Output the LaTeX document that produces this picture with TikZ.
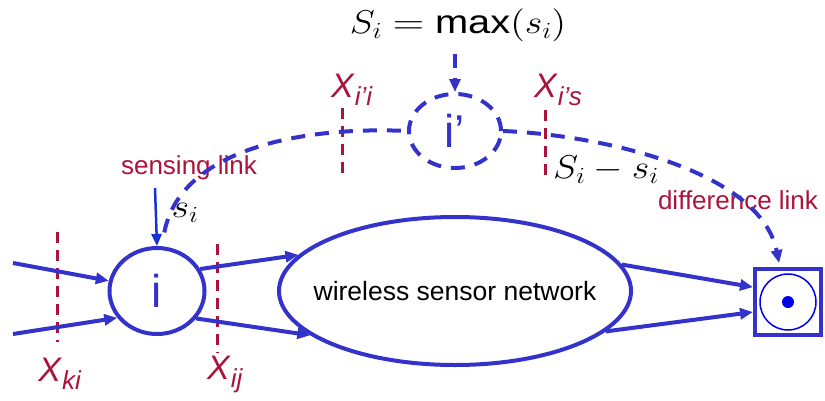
\documentclass[tikz,border=0pt]{standalone}
\usepackage{fontspec}
\setmainfont{Liberation Sans}
\DeclareFontShape{OML}{cmm}{m}{it}{<->cmmi12}{}
\DeclareFontShape{OMS}{cmsy}{m}{n}{<->cmsy10}{}
\DeclareFontShape{OT1}{cmr}{m}{n}{<->cmr12}{}
\DeclareFontShape{OMX}{cmex}{m}{n}{<->cmex10}{}
\usepackage{tikz}
\usetikzlibrary{arrows.meta,positioning,shapes.geometric}
\definecolor{netblue}{RGB}{51,51,204}
\definecolor{senseblue}{RGB}{25,50,210}
\definecolor{sinkblue}{RGB}{0,0,240}
\definecolor{cutred}{RGB}{170,20,60}
\tikzset{
  peer/.style={ellipse,draw=netblue,line width=4pt,inner sep=0pt,font=\fontsize{46}{46}\selectfont,text=netblue},
  virt/.style={peer,dash pattern=on 14pt off 10pt},
  cloud/.style={ellipse,draw=netblue,line width=4pt,inner sep=0pt,inner xsep=-20pt,font=\fontsize{26.5}{30}\selectfont},
  sinkbox/.style={draw=netblue,line width=4pt,minimum size=66pt,inner sep=0pt},
  flow/.style={-{Triangle[length=13pt,width=11pt]},draw=netblue,line width=4pt},
  vlink/.style={flow,dash pattern=on 14pt off 10pt},
  sense/.style={-{Triangle[length=12pt,width=10pt]},draw=senseblue,line width=2.5pt},
  cut/.style={draw=cutred,line width=3pt,dash pattern=on 11pt off 7pt},
  redlbl/.style={text=cutred,font=\fontsize{26}{30}\selectfont,inner sep=0pt},
  xlbl/.style={redlbl,font=\fontsize{34}{36}\selectfont},
  mathlbl/.style={font=\fontsize{33}{36}\selectfont,inner sep=0pt}
}
\newcommand{\Xcut}[1]{\textit{X}\raisebox{-8pt}{\fontsize{26}{26}\selectfont\textit{#1}}}
\newcommand{\wide}[1]{\scalebox{1.15}[1]{#1}}

\begin{document}
\begin{tikzpicture}[x=1pt,y=-1pt]
  \useasboundingbox (0,0) rectangle (825,400);
  % nodes
  \node[peer,minimum width=95pt,minimum height=86pt] (i) at (157,291) {i};
  \node[virt,minimum width=92pt,minimum height=74pt] (ip) at (455,131) {i'};
  \node[cloud,minimum width=352pt,minimum height=148pt] (wsn) at (455,291) {wireless sensor network};
  \node[sinkbox] (sink) at (788,302) {};
  \node[circle,draw=sinkblue,line width=1.5pt,minimum size=56pt,inner sep=0pt] (sinkring) at (sink.center) {};
  \node[circle,fill=sinkblue,minimum size=12pt,inner sep=0pt] (sinkdot) at (sink.center) {};

  % labels
  \node[mathlbl] (maxlbl) at (458,25) {\wide{$S_i \mathrel{\scalebox{1.1}[1]{$=$}} \scalebox{1.05}[1]{\mbox{max}}(s_i)$}};
  \node[mathlbl] (silbl) at (185,213) {\wide{$s_i$}};
  \node[mathlbl] (difflbl) at (606,170) {\wide{$S_i - s_i$}};
  \node[redlbl] (senselbl) at (189,168) {sensing link};
  \node[redlbl] (difflink) at (738,200) {difference link};
  \node[xlbl] (xki) at (60,374) {\Xcut{ki}};
  \node[xlbl] (xij) at (225,374) {\Xcut{ij}};
  \node[xlbl] (xii) at (352,90) {\Xcut{i'i}};
  \node[xlbl] (xis) at (558,90) {\Xcut{i's}};

  % cuts
  \draw[cut] (57,232) -- (57,342);
  \draw[cut] (217,244) -- (217,353);
  \draw[cut] (342,108) -- (342,173);
  \draw[cut] (545,110) -- (545,175);

  % links
  \coordinate (srcA) at (13,263);
  \coordinate (srcB) at (13,334);
  \coordinate (sensetop) at (155,188);
  \draw[flow] (srcA) -- (i.168);
  \draw[flow] (srcB) -- (i.214);
  \draw[flow] (i.27) -- (wsn.167);
  \draw[flow] (i.-35) -- (wsn.197);
  \draw[flow] (wsn.9) -- (sink.157);
  \draw[flow] (wsn.-15) -- (sink.196);
  \draw[sense] (sensetop) -- (i.north);
  \draw[vlink,shorten <=12pt] (maxlbl.south -| ip.north) -- (ip.north);
  \draw[vlink,-,shorten <=14pt] (i.84) .. controls (180,150) and (300,126) .. (ip.west);
  \draw[vlink,shorten >=4pt] (ip.east) .. controls (600,135) and (760,170) .. ([xshift=-8pt]sink.north);
\end{tikzpicture}
\end{document}
